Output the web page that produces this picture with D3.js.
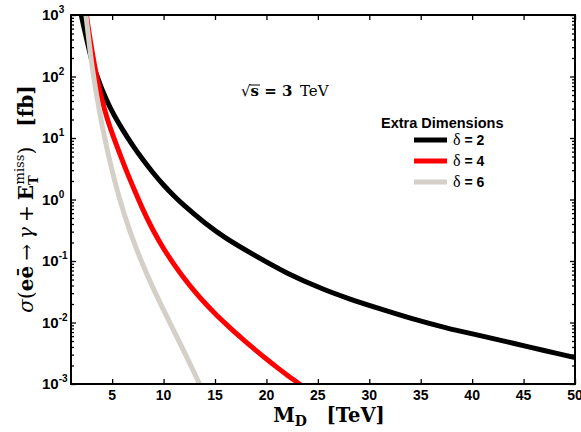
<!DOCTYPE html>
<html>
<head>
<meta charset="utf-8">
<script src="https://cdn.jsdelivr.net/npm/d3@7"></script>
<style>
  html, body { margin: 0; padding: 0; background: #fff; }
  svg { display: block; }
</style>
</head>
<body>
<svg id="chart" width="581" height="432"></svg>
<script>
// Monophoton cross section vs. fundamental scale M_D at sqrt(s) = 3 TeV
const massD2 = [1.8, 2.0, 2.5, 3.0, 3.5, 4, 5, 6, 7, 8, 9, 10, 11, 12, 14, 16, 19, 22, 25.5, 28, 31, 34, 37.5, 41, 44, 47, 50];
const sigmaD2 = [1500, 1000, 420, 190, 105, 63, 27, 13.8, 7.6, 4.43, 2.7, 1.72, 1.15, 0.8, 0.42, 0.24, 0.12, 0.064, 0.035, 0.0245, 0.0168, 0.0118, 0.0082, 0.006, 0.0046, 0.0035, 0.0027];

const massD4 = [2.3, 2.5, 3.0, 3.5, 4, 4.5, 5, 5.5, 6, 6.5, 7, 7.5, 8, 9, 10, 11, 12, 13, 14, 15, 16, 17, 18, 19, 20, 21, 22, 23, 24];
const sigmaD4 = [1780, 1000, 288, 100, 42.7, 21.4, 12.0, 7.08, 4.27, 2.63, 1.66, 1.06, 0.684, 0.313, 0.16, 0.0891, 0.0525, 0.0324, 0.0209, 0.014, 0.00966, 0.00676, 0.00485, 0.0035, 0.00255, 0.00188, 0.0014, 0.00106, 0.0008];

const massD6 = [2.3, 2.5, 3.0, 3.5, 4, 4.5, 5, 5.5, 6, 6.5, 7, 7.5, 8, 9, 10, 11, 12, 13, 14];
const sigmaD6 = [1600, 851, 170, 49, 17, 6.76, 2.95, 1.41, 0.724, 0.398, 0.229, 0.138, 0.0861, 0.0359, 0.016, 0.00733, 0.00335, 0.0015, 0.00065];

const seriesNames = ["δ = 2", "δ = 4", "δ = 6"];
const seriesColors = ["#000000", "#ff0000", "#d4d0c8"];
const xTickValues = [5, 10, 15, 20, 25, 30, 35, 40, 45, 50];
const yTickExponents = [-3, -2, -1, 0, 1, 2, 3];
const legendTitle = "Extra Dimensions";

const series = [
  { name: seriesNames[0], color: seriesColors[0], xs: massD2, ys: sigmaD2 },
  { name: seriesNames[1], color: seriesColors[1], xs: massD4, ys: sigmaD4 },
  { name: seriesNames[2], color: seriesColors[2], xs: massD6, ys: sigmaD6 }
];

const svg = d3.select("#chart");
const plot = { left: 71, right: 575, top: 15, bottom: 384 };

const x = d3.scaleLinear().domain([1, 50]).range([plot.left, plot.right]);
const y = d3.scaleLog().domain([1e-3, 1e3]).range([plot.bottom, plot.top]);

svg.append("defs").append("clipPath").attr("id", "plotClip")
  .append("rect")
  .attr("x", plot.left).attr("y", plot.top)
  .attr("width", plot.right - plot.left).attr("height", plot.bottom - plot.top);

// Curves
const line = d3.line()
  .x(d => x(d[0]))
  .y(d => y(d[1]))
  .curve(d3.curveCatmullRom.alpha(0.5));

const curves = svg.append("g").attr("clip-path", "url(#plotClip)");
series.forEach(s => {
  curves.append("path")
    .datum(s.xs.map((v, i) => [v, s.ys[i]]))
    .attr("fill", "none")
    .attr("stroke", s.color)
    .attr("stroke-width", 5)
    .attr("stroke-linejoin", "round")
    .attr("d", line);
});

// Axes: ticks point inward, mirrored on top and right
const minorY = [];
for (let e = -3; e < 3; e++) for (let m = 2; m <= 9; m++) minorY.push(m * Math.pow(10, e));
const majorY = yTickExponents.map(e => Math.pow(10, e));

const axisBottom = d3.axisBottom(x).tickValues(xTickValues).tickSize(-5).tickFormat("");
const axisTop = d3.axisTop(x).tickValues(xTickValues).tickSize(-5).tickFormat("");
const axisLeft = d3.axisLeft(y).tickValues(majorY).tickSize(-5).tickFormat("");
const axisRight = d3.axisRight(y).tickValues(majorY).tickSize(-5).tickFormat("");
const axisLeftMinor = d3.axisLeft(y).tickValues(minorY).tickSize(-3).tickFormat("");
const axisRightMinor = d3.axisRight(y).tickValues(minorY).tickSize(-3).tickFormat("");

function styleAxis(g) {
  g.select(".domain").remove();
  g.selectAll(".tick line").attr("stroke", "#000").attr("stroke-width", 1.3);
}
svg.append("g").attr("transform", `translate(0,${plot.bottom})`).call(axisBottom).call(styleAxis);
svg.append("g").attr("transform", `translate(0,${plot.top})`).call(axisTop).call(styleAxis);
svg.append("g").attr("transform", `translate(${plot.left},0)`).call(axisLeft).call(styleAxis);
svg.append("g").attr("transform", `translate(${plot.right},0)`).call(axisRight).call(styleAxis);
svg.append("g").attr("transform", `translate(${plot.left},0)`).call(axisLeftMinor).call(styleAxis);
svg.append("g").attr("transform", `translate(${plot.right},0)`).call(axisRightMinor).call(styleAxis);

// Frame
svg.append("rect")
  .attr("x", plot.left).attr("y", plot.top)
  .attr("width", plot.right - plot.left).attr("height", plot.bottom - plot.top)
  .attr("fill", "none").attr("stroke", "#000").attr("stroke-width", 2);

// Tick labels
const sans = "'Liberation Sans', Arial, Helvetica, sans-serif";
const serif = "'DejaVu Serif', 'Liberation Serif', serif";

svg.append("g").selectAll("text").data(xTickValues).join("text")
  .attr("x", d => x(d))
  .attr("y", 400)
  .attr("text-anchor", "middle")
  .attr("font-family", sans).attr("font-weight", "bold").attr("font-size", 14)
  .text(d => d);

const yLabels = svg.append("g").selectAll("text").data(yTickExponents).join("text")
  .attr("x", 42)
  .attr("y", d => y(Math.pow(10, d)) + 5)
  .attr("font-family", sans).attr("font-weight", "bold").attr("font-size", 15);
yLabels.append("tspan").text("10");
yLabels.append("tspan").attr("dy", -7).attr("font-size", 10)
  .text(d => d < 0 ? "-" + Math.abs(d) : String(d));

// Axis titles
const xt = svg.append("text")
  .attr("x", 329).attr("y", 422)
  .attr("text-anchor", "middle")
  .attr("font-family", serif).attr("font-weight", "bold").attr("font-size", 19.5);
xt.append("tspan").text("M");
xt.append("tspan").attr("font-size", 14).attr("dy", 4).text("D");
xt.append("tspan").attr("dy", -4).text("\u2003[TeV]");

const yt = svg.append("text")
  .attr("transform", "translate(33,199) rotate(-90)")
  .attr("text-anchor", "middle")
  .attr("font-family", serif).attr("font-size", 20);
yt.append("tspan").attr("font-style", "italic").text("σ");
yt.append("tspan").text("(");
yt.append("tspan").attr("font-weight", "bold").text("eē");
yt.append("tspan").text("\u2005→\u2005");
yt.append("tspan").attr("font-style", "italic").text("γ");
yt.append("tspan").text("\u2005+\u2005");
yt.append("tspan").attr("font-weight", "bold").text("E");
yt.append("tspan").attr("font-weight", "bold").attr("font-size", 13).attr("dy", 5).text("T");
yt.append("tspan").attr("font-size", 13).attr("dx", -9).attr("dy", -14).text("miss");
yt.append("tspan").attr("dy", 9).text(")");
yt.append("tspan").attr("font-weight", "bold").text("\u2003[fb]");

// Centre-of-mass energy note
const note = svg.append("text")
  .attr("x", 241).attr("y", 96)
  .attr("font-family", serif).attr("font-size", 15);
note.append("tspan").text("√");
note.append("tspan").attr("font-weight", "bold").attr("class", "rad").text("s");
note.append("tspan").attr("font-weight", "bold").text(" = 3");
note.append("tspan").text("\u2002TeV");
const radBox = note.select(".rad").node().getBBox();
svg.append("line")
  .attr("x1", radBox.x - 1).attr("x2", radBox.x + radBox.width + 1)
  .attr("y1", radBox.y + 3).attr("y2", radBox.y + 3)
  .attr("stroke", "#000").attr("stroke-width", 1);

// Legend
const legend = svg.append("g");
legend.append("text")
  .attr("x", 381).attr("y", 128)
  .attr("font-family", sans).attr("font-weight", "bold").attr("font-size", 14.5)
  .text(legendTitle);
const rows = legend.selectAll("g.row").data(series).join("g")
  .attr("class", "row")
  .attr("transform", (d, i) => `translate(0,${140 + i * 21})`);
rows.append("line")
  .attr("x1", 414).attr("x2", 447).attr("y1", 0).attr("y2", 0)
  .attr("stroke", d => d.color).attr("stroke-width", 5);
const rowText = rows.append("text")
  .attr("x", 453).attr("y", 5)
  .attr("font-family", sans).attr("font-weight", "bold").attr("font-size", 14);
rowText.append("tspan").attr("font-family", "'Liberation Serif', serif").attr("font-weight", "normal").attr("font-size", 16).text(d => d.name.slice(0, 1));
rowText.append("tspan").text(d => d.name.slice(1));
</script>
</body>
</html>
